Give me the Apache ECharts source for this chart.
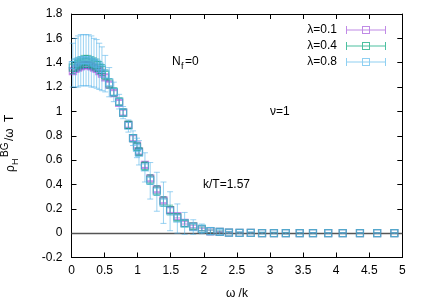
<!DOCTYPE html>
<html><head><meta charset="utf-8">
<script src="https://cdn.jsdelivr.net/npm/echarts@6/dist/echarts.min.js"></script>
<style>html,body{margin:0;padding:0;background:#fff}#c{width:436px;height:305px}</style>
</head><body><div id="c"></div>
<script>
const omega = [0.02,0.06,0.10,0.14,0.18,0.22,0.26,0.30,0.34,0.38,0.42,0.46,0.51,0.57,0.64,0.72,0.78,0.86,0.93,0.99,1.02,1.11,1.19,1.29,1.39,1.49,1.60,1.71,1.84,1.97,2.10,2.24,2.38,2.54,2.71,2.88,3.06,3.24,3.45,3.65,3.88,4.10,4.36,4.62,4.88];
const rho01 = [1.33,1.35,1.36,1.37,1.38,1.38,1.38,1.37,1.36,1.35,1.33,1.31,1.28,1.22,1.15,1.07,0.99,0.89,0.78,0.72,0.67,0.56,0.45,0.36,0.27,0.19,0.14,0.085,0.055,0.03,0.015,0.01,0.005,0.003,0.002,0.001,0.001,0,0,0.001,0,0,0,0,0];
const err01 = [0.02,0.02,0.02,0.02,0.02,0.02,0.02,0.02,0.02,0.02,0.02,0.02,0.02,0.02,0.02,0.02,0.02,0.02,0.02,0.02,0.02,0.02,0.02,0.02,0.02,0.02,0.015,0.01,0.01,0.01,0.01,0.005,0.005,0.004,0.004,0.004,0.004,0.004,0.003,0.003,0.002,0.002,0.002,0.002,0.002];
const rho04 = [1.36,1.38,1.39,1.40,1.41,1.41,1.41,1.40,1.39,1.38,1.36,1.34,1.30,1.23,1.16,1.08,0.99,0.89,0.78,0.71,0.67,0.55,0.44,0.35,0.26,0.19,0.13,0.08,0.055,0.035,0.016,0.01,0.005,0.003,0.002,0.001,0.001,0,0,0,0,0,0,0,0];
const err04 = [0.05,0.05,0.05,0.05,0.05,0.05,0.05,0.05,0.05,0.05,0.05,0.045,0.04,0.04,0.035,0.03,0.03,0.03,0.03,0.03,0.03,0.035,0.04,0.04,0.04,0.04,0.03,0.025,0.02,0.015,0.01,0.008,0.006,0.005,0.005,0.005,0.005,0.005,0.004,0.004,0.003,0.003,0.003,0.003,0.003];
const rho08 = [1.38,1.40,1.41,1.42,1.42,1.42,1.42,1.41,1.40,1.39,1.37,1.35,1.31,1.24,1.16,1.08,0.99,0.88,0.78,0.70,0.66,0.54,0.43,0.34,0.25,0.18,0.12,0.08,0.05,0.035,0.017,0.01,0.005,0.003,0.002,0.001,0.001,0,0,0,0,0,0,0,0];
const err08 = [0.18,0.2,0.21,0.21,0.21,0.21,0.21,0.21,0.2,0.2,0.19,0.18,0.15,0.12,0.08,0.06,0.05,0.05,0.06,0.08,0.1,0.12,0.15,0.16,0.17,0.16,0.12,0.09,0.06,0.04,0.03,0.02,0.01,0.008,0.008,0.008,0.007,0.007,0.006,0.005,0.005,0.004,0.004,0.004,0.004];
const seriesNames = ['λ=0.1','λ=0.4','λ=0.8'];
const xTicks = [0,0.5,1,1.5,2,2.5,3,3.5,4,4.5,5];
const yTicks = [-0.2,0,0.2,0.4,0.6,0.8,1,1.2,1.4,1.6,1.8];

const colors = ['rgba(160,40,215,0.55)','rgba(0,158,115,0.6)','rgba(86,180,233,0.6)'];
const legendColors = ['#c08ae6','#4cc0a0','#8fd0f2'];
const sets = [[rho01,err01],[rho04,err04],[rho08,err08]];
const FONT = 'Liberation Sans';

function mk(i){
  const data = omega.map((w,k)=>[w, sets[i][0][k], sets[i][1][k]]);
  const c = colors[i];
  return {
    type:'custom', name: seriesNames[i], data,
    encode:{x:0,y:1},
    itemStyle:{color: legendColors[i]},
    renderItem(params, api){
      const x = api.value(0), y = api.value(1), e = api.value(2);
      const p = api.coord([x,y]);
      const hi = api.coord([x,y+e]);
      const lo = api.coord([x,y-e]);
      const cw = 3;
      const s = 7;
      return {type:'group', children:[
        {type:'line', shape:{x1:p[0],y1:hi[1],x2:p[0],y2:lo[1]}, style:{stroke:c,lineWidth:1}},
        {type:'line', shape:{x1:p[0]-cw,y1:hi[1],x2:p[0]+cw,y2:hi[1]}, style:{stroke:c,lineWidth:1}},
        {type:'line', shape:{x1:p[0]-cw,y1:lo[1],x2:p[0]+cw,y2:lo[1]}, style:{stroke:c,lineWidth:1}},
        {type:'rect', shape:{x:p[0]-s/2,y:p[1]-s/2,width:s,height:s}, style:{stroke:c,fill:null,lineWidth:1.2}}
      ]};
    },
    z: 3 + i
  };
}

const iconPath = 'path://M0,35L400,35L400,45L0,45Z M0,0L10,0L10,80L0,80Z M390,0L400,0L400,80L390,80Z M160,0L240,0L240,80L160,80L160,0L170,10L170,70L230,70L230,10L170,10L160,0Z';

const axisCommon = {
  min:0, max:5, interval:0.5,
  axisLine:{show:true,onZero:false,lineStyle:{color:'#000',width:1}},
  axisTick:{show:true,inside:true,length:5,lineStyle:{color:'#000'}},
  splitLine:{show:false}
};
const yCommon = {
  min:-0.2, max:1.8, interval:0.2,
  axisLine:{show:true,onZero:false,lineStyle:{color:'#000',width:1}},
  axisTick:{show:true,inside:true,length:5,lineStyle:{color:'#000'}},
  splitLine:{show:false}
};

const chart = echarts.init(document.getElementById('c'), null, {renderer:'canvas'});
const series = [0,1,2].map(mk);
series.push({
  type:'line', data:[], silent:true,
  markLine:{silent:true,symbol:'none',label:{show:false},lineStyle:{color:'#555',width:1.3,type:'solid'},data:[{yAxis:0}]}
});
chart.setOption({
  animation:false,
  textStyle:{fontFamily:FONT},
  grid:{left:71.5,right:33.7,top:14,bottom:47.5},
  xAxis:[
    Object.assign({}, axisCommon, {type:'value',position:'bottom',
      axisLabel:{margin:7,color:'#000',fontSize:12,fontFamily:FONT,formatter:v=>xTicks.includes(v)?String(v):''},
      name:'ω /k', nameLocation:'middle', nameGap:30, nameTextStyle:{color:'#000',fontSize:12,fontFamily:FONT}}),
    Object.assign({}, axisCommon, {type:'value',position:'top',axisLabel:{show:false}})
  ],
  yAxis:[
    Object.assign({}, yCommon, {type:'value',position:'left',
      axisLabel:{margin:9,color:'#000',fontSize:12,fontFamily:FONT,formatter:v=>{const t=yTicks.find(a=>Math.abs(a-v)<1e-9);return t===undefined?'':String(Math.round(t*10)/10);}}}),
    Object.assign({}, yCommon, {type:'value',position:'right',axisLabel:{show:false}})
  ],
  legend:{
    orient:'vertical', right:50, top:24, padding:0, itemGap:4, align:'right',
    itemWidth:40, itemHeight:8,
    textStyle:{fontSize:12,fontFamily:FONT,color:'#000',padding:[0,4,0,0]},
    data: seriesNames.map((n,i)=>({name:n, icon:iconPath, itemStyle:{color:legendColors[i]}}))
  },
  graphic:[
    {type:'text', left:172, top:56, style:{text:'N',fontSize:12,fontFamily:FONT,fill:'#000'}},
    {type:'text', left:181, top:62, style:{text:'f',fontSize:9,fontFamily:FONT,fill:'#000'}},
    {type:'text', left:185, top:56, style:{text:'=0',fontSize:12,fontFamily:FONT,fill:'#000'}},
    {type:'text', left:270, top:106, style:{text:'ν=1',fontSize:12,fontFamily:FONT,fill:'#000'}},
    {type:'text', left:203, top:179, style:{text:'k/T=1.57',fontSize:12,fontFamily:FONT,fill:'#000'}},
    {type:'group', x:17, y:172, rotation:Math.PI/2, children:[
      {type:'text', x:0, y:0, style:{text:'ρ',fontSize:12,fontFamily:FONT,fill:'#000',verticalAlign:'bottom'}},
      {type:'text', x:7, y:3, style:{text:'H',fontSize:9,fontFamily:FONT,fill:'#000',verticalAlign:'bottom'}},
      {type:'text', x:15, y:-7, style:{text:'BG',fontSize:10,fontFamily:FONT,fill:'#000',verticalAlign:'bottom'}},
      {type:'text', x:31, y:-1, style:{text:'/ω',fontSize:12,fontFamily:FONT,fill:'#000',verticalAlign:'bottom'}},
      {type:'text', x:50, y:-1, style:{text:'T',fontSize:12,fontFamily:FONT,fill:'#000',verticalAlign:'bottom'}}
    ]}
  ],
  series
});
</script></body></html>
